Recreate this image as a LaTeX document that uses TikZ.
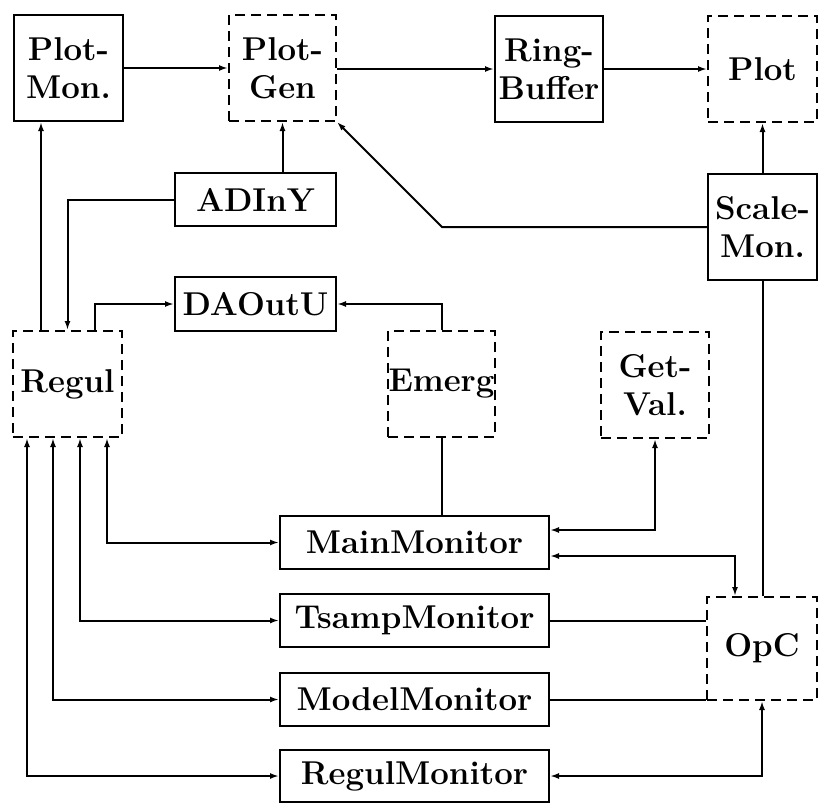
\documentclass[tikz,border=0pt]{standalone}
\usetikzlibrary{arrows.meta,calc}
\begin{document}
\begin{tikzpicture}[x=1pt,y=-1pt,
  every node/.style={font=\fontsize{33}{38}\selectfont\bfseries, align=center, inner sep=0pt},
  solidbox/.style={draw, line width=2pt, rectangle},
  dashbox/.style={draw, line width=2pt, rectangle, dash pattern=on 10pt off 6pt},
  conn/.style={line width=2pt},
  tip/.style={-{Latex[length=9pt,width=6pt]}},
  both/.style={{Latex[length=9pt,width=6pt]}-{Latex[length=9pt,width=6pt]}}
]
\fill[white] (0,0) rectangle (819,803);
\useasboundingbox (0,0) rectangle (819,803);

\node[solidbox, minimum width=109pt, minimum height=106pt] (plotmon) at (68.5,68) {Plot-\\Mon.};
\node[dashbox,  minimum width=107pt, minimum height=106pt] (plotgen) at (282.5,68) {Plot-\\Gen};
\node[solidbox, minimum width=108pt, minimum height=106pt] (ring) at (549,69) {Ring-\\Buffer};
\node[dashbox,  minimum width=109pt, minimum height=106pt] (plot) at (762.5,69) {Plot};
\node[solidbox, minimum width=161pt, minimum height=53pt] (adiny) at (255.5,199.5) {ADInY};
\node[solidbox, minimum width=109pt, minimum height=106pt] (scalemon) at (762.5,227) {Scale-\\Mon.};
\node[solidbox, minimum width=161pt, minimum height=54pt] (daoutu) at (255.5,304) {DAOutU};
\node[dashbox,  minimum width=109pt, minimum height=106pt] (regul) at (67.5,384) {Regul};
\node[dashbox,  minimum width=107pt, minimum height=106pt] (emerg) at (441.5,384) {Emerg};
\node[dashbox,  minimum width=108pt, minimum height=106pt] (getval) at (655,385) {Get-\\Val.};
\node[solidbox, minimum width=269pt, minimum height=53pt] (mainmon) at (414.5,542.5) {MainMonitor};
\node[solidbox, minimum width=269pt, minimum height=53pt] (tsamp) at (414.5,620.5) {TsampMonitor};
\node[solidbox, minimum width=269pt, minimum height=53pt] (model) at (414.5,699.5) {ModelMonitor};
\node[solidbox, minimum width=269pt, minimum height=52pt] (regmon) at (414.5,776) {RegulMonitor};
\node[dashbox,  minimum width=110pt, minimum height=103pt] (opc) at (762,648.5) {OpC};

\coordinate (bend) at (442,227);

% top row
\draw[conn,tip] (plotmon) -- (plotgen);
\draw[conn,tip] (plotgen.east |- ring) -- (ring);
\draw[conn,tip] (ring) -- (plot);
\draw[conn,tip] (adiny.north -| plotgen) -- (plotgen.south);
\draw[conn,tip] (adiny.west) -| (regul.north);
\draw[conn,tip] (scalemon.west) -- (bend) -- (plotgen.south east);
\draw[conn,tip] (scalemon) -- (plot);
\draw[conn] (scalemon.south) -- (scalemon.south |- opc.north);

% Regul, DAOutU, Emerg
\draw[conn,tip] (regul.north -| 41,0) -- (plotmon.south -| 41,0);
\draw[conn,tip] (regul.north -| 95,0) |- (daoutu.west);
\draw[conn,tip] (emerg.north) |- (daoutu.east);
\draw[conn] (emerg.south) -- (emerg.south |- mainmon.north);

% GetVal, OpC
\draw[conn,both] (mainmon.east |- 0,530) -| (getval.south);
\draw[conn,both] (mainmon.east |- 0,556) -| (opc.north -| 735,0);
\draw[conn] (tsamp.east) -- (tsamp.east -| opc.west);
\draw[conn] (model.east) -- (model.east -| opc.west);
\draw[conn,both] (regmon.east) -| (opc.south);

% Regul to monitors
\draw[conn,both] (regul.south -| 107,0) |- (mainmon.west);
\draw[conn,both] (regul.south -| 80,0) |- (tsamp.west);
\draw[conn,both] (regul.south -| 53,0) |- (model.west);
\draw[conn,both] (regul.south -| 27,0) |- (regmon.west);
\end{tikzpicture}
\end{document}
